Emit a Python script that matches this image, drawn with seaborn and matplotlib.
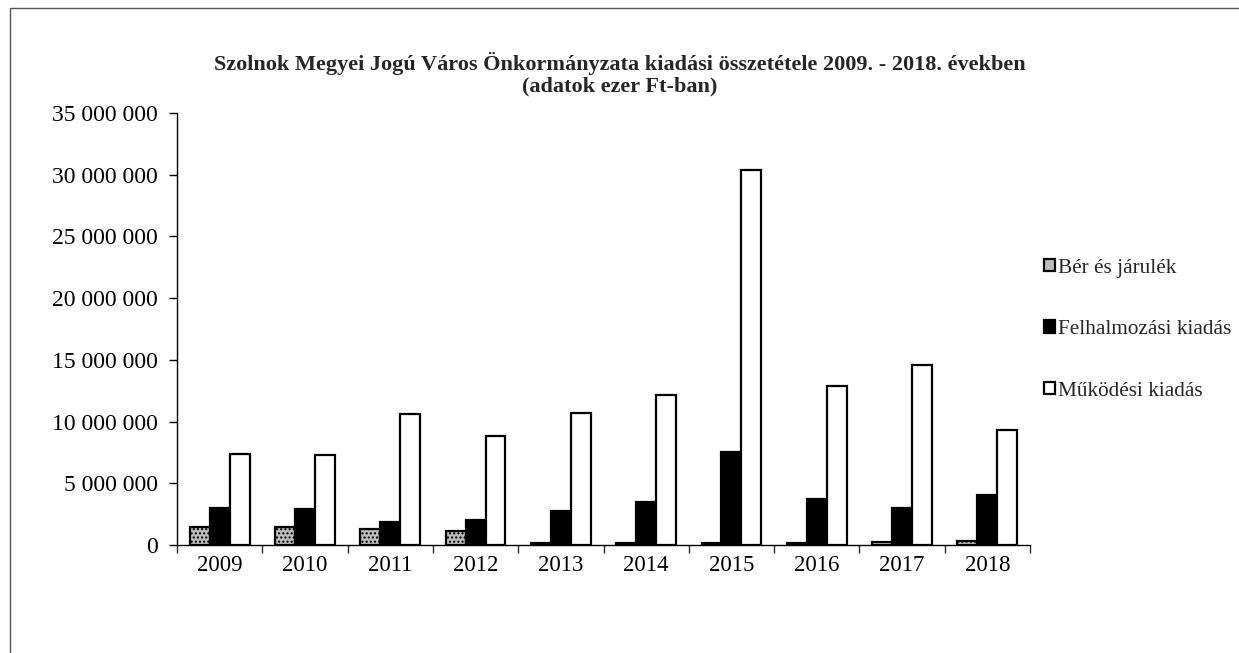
import numpy as np
import pandas as pd
import matplotlib
matplotlib.use("Agg")
import matplotlib.pyplot as plt
import seaborn as sns
from matplotlib.ticker import FuncFormatter, FixedLocator
from matplotlib.patches import Rectangle

years = ["2009", "2010", "2011", "2012", "2013", "2014", "2015", "2016", "2017", "2018"]
series = ["Bér és járulék", "Felhalmozási kiadás", "Működési kiadás"]
ber = [1490000, 1440000, 1280000, 1160000, 150000, 150000, 200000, 200000, 250000, 350000]
felh = [3000000, 2900000, 1870000, 2030000, 2760000, 3500000, 7530000, 3740000, 3000000, 4060000]
mukodes = [7390000, 7310000, 10590000, 8800000, 10720000, 12150000, 30350000, 12900000, 14550000, 9350000]
title = "Szolnok Megyei Jogú Város Önkormányzata kiadási összetétele 2009. - 2018. években\n(adatok ezer Ft-ban)"

df = pd.DataFrame({
    "year": years * 3,
    "series": [series[0]] * 10 + [series[1]] * 10 + [series[2]] * 10,
    "value": ber + felh + mukodes,
})

sns.set_theme(style="white")
plt.rcParams["font.family"] = ["Liberation Serif", "DejaVu Serif"]

fig = plt.figure(figsize=(12.39, 6.53), dpi=100)
ax = fig.add_axes([177 / 1239, (653 - 545) / 653, (1030 - 177) / 1239, (545 - 113) / 653])

sns.barplot(data=df, x="year", y="value", hue="series", order=years, hue_order=series,
            palette=["#bdbdbd", "#000000", "#ffffff"], edgecolor="black", linewidth=1.6,
            width=0.7, saturation=1, ax=ax, legend=True)

for container, h in zip(ax.containers, ["....", None, None]):
    for p in container:
        if h:
            p.set_hatch(h)

ax.set_ylim(0, 35000000)
ax.set_xlim(-0.5, 9.5)
ax.yaxis.set_major_locator(FixedLocator(np.arange(0, 35000001, 5000000)))
ax.yaxis.set_major_formatter(FuncFormatter(lambda v, p: f"{int(v):,}".replace(",", " ")))
ax.set_xlabel("")
ax.set_ylabel("")
ax.tick_params(axis="x", which="major", length=0, labelsize=16.5, pad=7, colors="black")
ax.tick_params(axis="y", which="major", length=6, width=1, direction="out", labelsize=17, pad=8, colors="black")
ax.set_xticks(np.arange(-0.5, 10, 1), minor=True)
ax.tick_params(axis="x", which="minor", length=6, width=1, direction="out", bottom=True)
ax.tick_params(axis="y", left=True)
for s in ["top", "right"]:
    ax.spines[s].set_visible(False)
for s in ["left", "bottom"]:
    ax.spines[s].set_color("black")
    ax.spines[s].set_linewidth(1)

fig.text(620 / 1239, 1 - 74 / 653, title, ha="center", va="center", fontsize=16,
         fontweight="bold", linespacing=1.1)

handles, labels = ax.get_legend_handles_labels()
ax.legend(handles, labels, loc="upper left", bbox_to_anchor=(1035 / 1239, 1 - 250 / 653),
          bbox_transform=fig.transFigure, frameon=False, fontsize=15.3, handlelength=0.55,
          handleheight=0.55, handletextpad=0.15, labelspacing=2.0, borderaxespad=0)

fig.patches.append(Rectangle((10 / 1239, -0.01), 1.02, 1 - 8 / 653 + 0.01, transform=fig.transFigure,
                             fill=False, edgecolor="#555555", linewidth=1))

fig.savefig("out.png", dpi=100, facecolor="white")
